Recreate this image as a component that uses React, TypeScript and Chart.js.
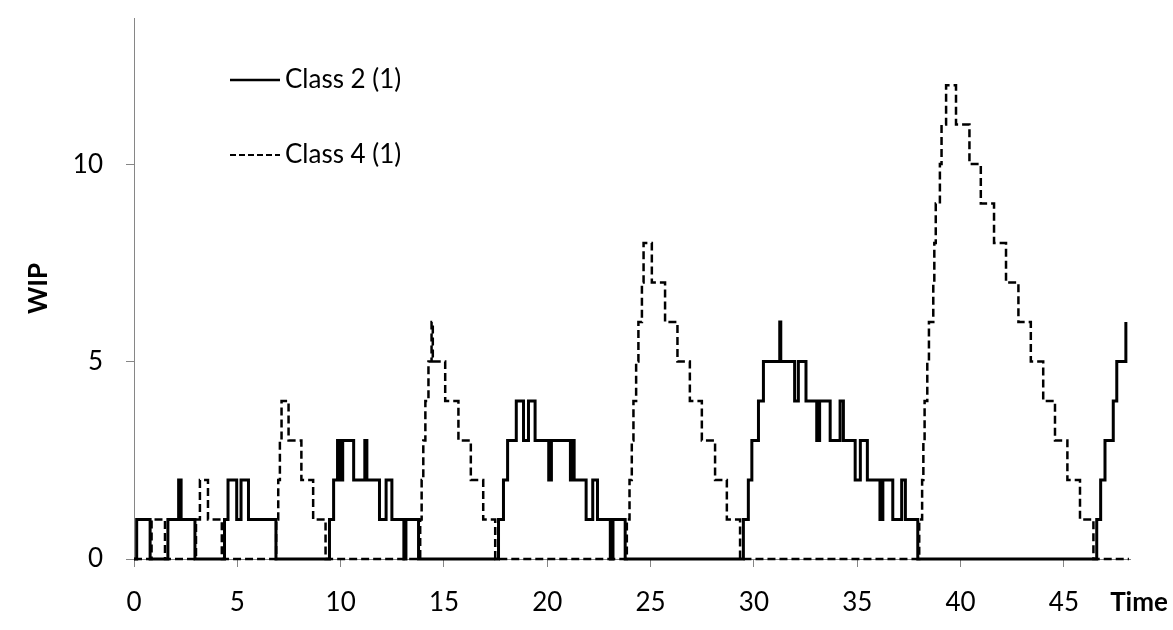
import { useEffect, useRef } from 'react';
import { Chart, registerables } from 'chart.js';

Chart.register(...registerables);

// ---- Data (step change events: at time t the WIP becomes value v) ----
const class2Time = [
  0, 0.13, 0.78, 1.64, 2.16, 2.28, 2.95, 4.38, 4.55, 4.97, 5.18, 5.54, 6.87,
  9.46, 9.66, 9.85, 9.99, 10.1, 10.63, 11.17, 11.27, 11.88, 12.2, 12.48, 13.06, 13.16, 13.77,
  17.64, 17.88, 18.08, 18.5, 18.85, 19.09, 19.41, 20.07, 20.2, 21.12, 21.22, 21.3, 21.88, 22.2, 22.43, 23.05, 23.18, 23.77,
  29.49, 29.73, 29.9, 30.22, 30.46, 31.25, 31.3, 31.97, 32.15, 32.52, 33.04, 33.18, 33.69, 34.17, 34.33,
  34.9, 35.15, 35.49, 36.1, 36.24, 36.72, 37.15, 37.33, 37.93,
  46.59, 46.78, 46.99, 47.39, 47.56, 48.0,
];
const class2WIP = [
  0, 1, 0, 1, 2, 1, 0, 1, 2, 1, 2, 1, 0,
  1, 2, 3, 2, 3, 2, 3, 2, 1, 2, 1, 0, 1, 0,
  1, 2, 3, 4, 3, 4, 3, 2, 3, 2, 3, 2, 1, 2, 1, 0, 1, 0,
  1, 2, 3, 4, 5, 6, 5, 4, 5, 4, 3, 4, 3, 4, 3,
  2, 3, 2, 1, 2, 1, 2, 1, 0,
  1, 2, 3, 4, 5, 6,
];

const class4Time = [
  0, 0.85, 1.5, 3.0, 3.19, 3.58, 4.25, 6.88, 6.98, 7.06, 7.14, 7.48, 8.1, 8.67, 9.27,
  13.85, 13.92, 14.0, 14.1, 14.25, 14.4, 14.46, 15.06, 15.7, 16.3, 16.9, 17.48,
  23.85, 23.98, 24.09, 24.17, 24.3, 24.41, 24.58, 24.66, 25.06, 25.7, 26.3, 26.9, 27.48, 28.12, 28.69, 29.33,
  38.0, 38.14, 38.2, 38.26, 38.39, 38.47, 38.68, 38.73, 38.8, 39.0, 39.08, 39.3, 39.78, 40.43, 40.98,
  41.62, 42.2, 42.8, 43.4, 44.0, 44.57, 45.17, 45.78, 46.43, 48.15,
];
const class4WIP = [
  0, 1, 0, 1, 2, 1, 0, 1, 2, 3, 4, 3, 2, 1, 0,
  1, 2, 3, 4, 5, 6, 5, 4, 3, 2, 1, 0,
  1, 2, 3, 4, 5, 6, 7, 8, 7, 6, 5, 4, 3, 2, 1, 0,
  1, 2, 3, 4, 5, 6, 7, 8, 9, 10, 11, 12, 11, 10, 9,
  8, 7, 6, 5, 4, 3, 2, 1, 0, 0,
];

const seriesLabels = ['Class 2 (1)', 'Class 4 (1)'];
const xTickValues = [0, 5, 10, 15, 20, 25, 30, 35, 40, 45];
const yTickValues = [0, 5, 10];
const xAxisTitle = 'Time';
const yAxisTitle = 'WIP';

const FONT = 'Lato';

function toPoints(t: number[], v: number[]) {
  return t.map((x, i) => ({ x, y: v[i] }));
}

const overlayPlugin = {
  id: 'overlay',
  afterDraw(chart: any) {
    const { ctx, chartArea, scales } = chart;
    ctx.save();
    // legend inside plot area
    const rows = [
      { y: chartArea.top + 62, dash: [], width: 2.5, label: seriesLabels[0] },
      { y: chartArea.top + 137, dash: [6, 3], width: 2, label: seriesLabels[1] },
    ];
    ctx.strokeStyle = '#000';
    ctx.fillStyle = '#000';
    ctx.font = `26px ${FONT}`;
    ctx.textAlign = 'left';
    ctx.textBaseline = 'middle';
    rows.forEach((r) => {
      ctx.beginPath();
      ctx.setLineDash(r.dash);
      ctx.lineWidth = r.width;
      ctx.moveTo(chartArea.left + 96, r.y);
      ctx.lineTo(chartArea.left + 146, r.y);
      ctx.stroke();
      ctx.fillText(r.label, chartArea.left + 151, r.y);
    });
    // x axis title at the end of the tick-label row
    const xs = scales.x;
    ctx.setLineDash([]);
    ctx.font = `bold 26px ${FONT}`;
    ctx.textAlign = 'center';
    ctx.fillText(xAxisTitle, chartArea.right + 9, xs.top + 8 + 20 + 15.6);
    ctx.restore();
  },
};

export default function App() {
  const canvasRef = useRef<HTMLCanvasElement | null>(null);

  useEffect(() => {
    if (!canvasRef.current) return;
    const chart = new Chart(canvasRef.current, {
      type: 'line',
      data: {
        datasets: [
          {
            label: seriesLabels[0],
            data: toPoints(class2Time, class2WIP),
            borderColor: '#000',
            borderWidth: 3,
            stepped: true,
            pointRadius: 0,
            fill: false,
            clip: false as any,
          },
          {
            label: seriesLabels[1],
            data: toPoints(class4Time, class4WIP),
            borderColor: '#000',
            borderWidth: 2.5,
            borderDash: [8, 4],
            stepped: true,
            pointRadius: 0,
            fill: false,
            clip: false as any,
          },
        ],
      },
      options: {
        responsive: false,
        animation: false,
        events: [],
        layout: { padding: { left: 0, top: 18, right: 43, bottom: 0 } },
        plugins: {
          legend: { display: false },
          tooltip: { enabled: false },
        },
        scales: {
          x: {
            type: 'linear',
            min: 0,
            max: 48.2,
            afterBuildTicks: (s: any) => {
              s.ticks = xTickValues.map((value) => ({ value }));
            },
            afterFit: (s: any) => {
              s.height = 71;
              s.paddingLeft = 0;
              s.paddingRight = 0;
            },
            grid: {
              display: true,
              drawOnChartArea: false,
              drawTicks: true,
              tickLength: 8,
              color: '#868686',
            },
            border: { display: true, color: '#868686', width: 1 },
            ticks: {
              font: { family: FONT, size: 26 },
              color: '#000',
              padding: 20,
              maxRotation: 0,
              autoSkip: false,
            },
          },
          y: {
            type: 'linear',
            min: 0,
            max: 13.7,
            afterBuildTicks: (s: any) => {
              s.ticks = yTickValues.map((value) => ({ value }));
            },
            afterFit: (s: any) => {
              s.width = 134;
              s.paddingTop = 0;
              s.paddingBottom = 0;
            },
            grid: {
              display: true,
              drawOnChartArea: false,
              drawTicks: true,
              tickLength: 8,
              color: '#868686',
            },
            border: { display: true, color: '#868686', width: 1 },
            ticks: {
              font: { family: FONT, size: 26 },
              color: '#000',
              padding: 23,
            },
            title: {
              display: true,
              text: yAxisTitle,
              font: { family: FONT, size: 26, weight: 'bold' },
              color: '#000',
              padding: { top: 23, bottom: 0 },
            },
          },
        },
      },
      plugins: [overlayPlugin],
    });
    return () => chart.destroy();
  }, []);

  return (
    <div style={{ position: 'fixed', left: 0, top: 0, width: 1173, height: 630, background: '#fff' }}>
      <canvas ref={canvasRef} width={1173} height={630} style={{ display: 'block' }} />
    </div>
  );
}
